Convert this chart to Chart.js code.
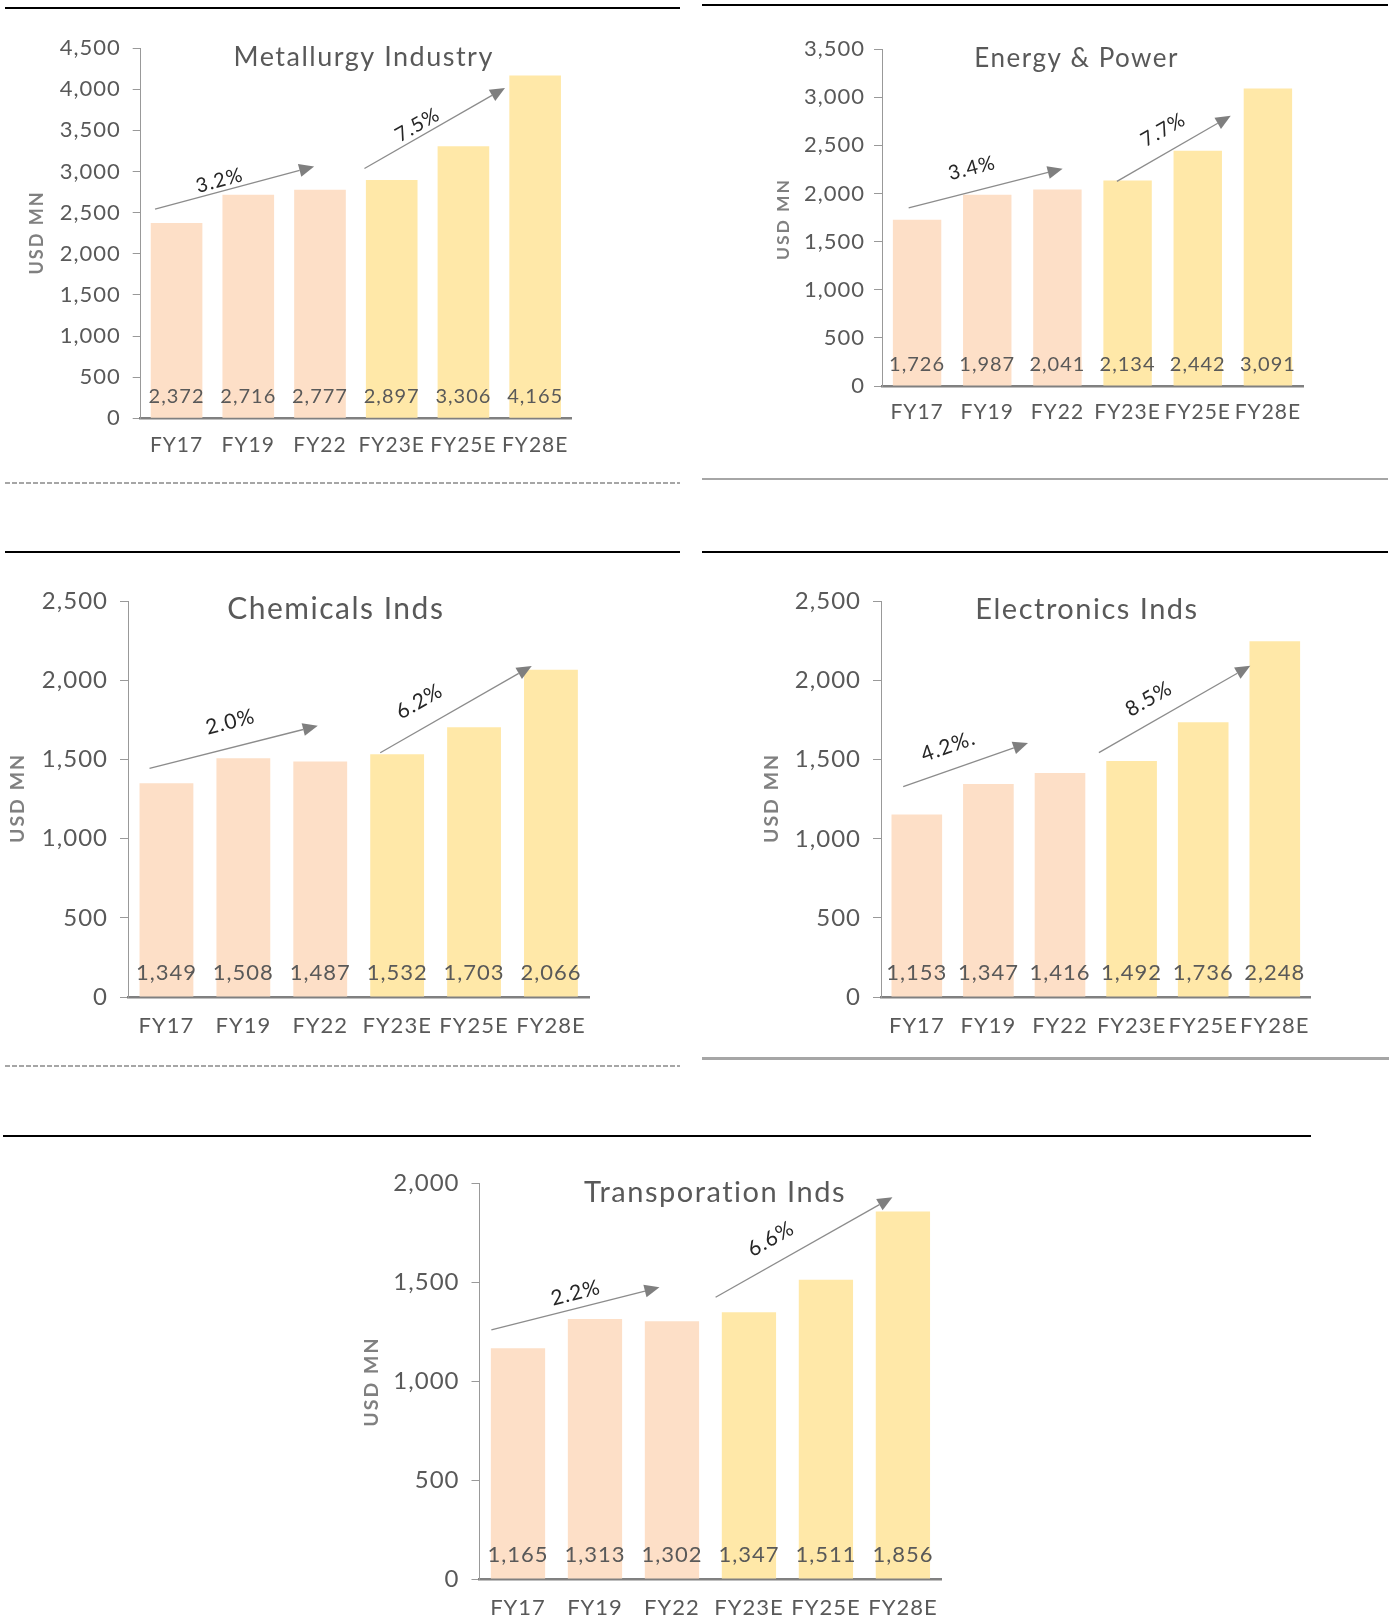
<!DOCTYPE html>
<html>
<head>
<meta charset="utf-8">
<script src="https://cdn.jsdelivr.net/npm/chart.js@4.4.1/dist/chart.umd.min.js"></script>
<style>
html,body{margin:0;padding:0;background:#fff;}
body{width:1396px;height:1620px;position:relative;overflow:hidden;font-family:Lato,sans-serif;}
canvas{position:absolute;}
.rule{position:absolute;}
.solid{background:#000;height:2px;}
.grey{background:#a6a6a6;}
.dash{height:2px;background:repeating-linear-gradient(to right,#a6a6a6 0 5px,transparent 5px 7px);}
</style>
</head>
<body>
<div class="rule solid" style="left:5px;top:7px;width:675px;"></div>
<div class="rule dash" style="left:5px;top:482px;width:675px;"></div>
<div class="rule solid" style="left:702px;top:4px;width:686px;"></div>
<div class="rule grey" style="left:702px;top:478px;width:686px;height:2px;"></div>
<div class="rule solid" style="left:5px;top:551px;width:675px;"></div>
<div class="rule dash" style="left:5px;top:1065px;width:675px;"></div>
<div class="rule solid" style="left:702px;top:551px;width:686px;"></div>
<div class="rule grey" style="left:702px;top:1057px;width:687px;height:3px;"></div>
<div class="rule solid" style="left:3px;top:1135px;width:1308px;"></div>

<script>
// ---------------- DATA ----------------
const categories = ['FY17', 'FY19', 'FY22', 'FY23E', 'FY25E', 'FY28E'];

const metallurgyValues  = [2372, 2716, 2777, 2897, 3306, 4165];
const energyValues      = [1726, 1987, 2041, 2134, 2442, 3091];
const chemicalsValues   = [1349, 1508, 1487, 1532, 1703, 2066];
const electronicsValues = [1153, 1347, 1416, 1492, 1736, 2248];
const transportValues   = [1165, 1313, 1302, 1347, 1511, 1856];

const metallurgyTicks  = [0, 500, 1000, 1500, 2000, 2500, 3000, 3500, 4000, 4500];
const energyTicks      = [0, 500, 1000, 1500, 2000, 2500, 3000, 3500];
const chemicalsTicks   = [0, 500, 1000, 1500, 2000, 2500];
const electronicsTicks = [0, 500, 1000, 1500, 2000, 2500];
const transportTicks   = [0, 500, 1000, 1500, 2000];

// CAGR labels
const metallurgyCagr  = ['3.2%', '7.5%'];
const energyCagr      = ['3.4%', '7.7%'];
const chemicalsCagr   = ['2.0%', '6.2%'];
const electronicsCagr = ['4.2%.', '8.5%'];
const transportCagr   = ['2.2%', '6.6%'];

// trend arrows in data space: [fromCategoryPos, fromValue, toCategoryPos, toValue]
const metallurgyTrend  = [[-0.30, 2542, 1.918, 3060], [2.62, 3035, 4.58, 4015]];
const energyTrend      = [[-0.12, 1849, 2.074, 2256], [2.848, 2125, 4.47, 2806]];
const chemicalsTrend   = [[-0.22, 1443, 1.968, 1712], [2.78, 1542, 4.75, 2090]];
const electronicsTrend = [[-0.19, 1330, 1.553, 1606], [2.543, 1545, 4.658, 2094]];
const transportTrend   = [[-0.346, 1258, 1.838, 1473], [2.567, 1423, 4.864, 1928]];

// CAGR label anchors in data space: [categoryPos, value]
const metallurgyCagrAt  = [[0.60, 2890], [3.36, 3565]];
const energyCagrAt      = [[0.78, 2263], [3.51, 2661]];
const chemicalsCagrAt   = [[0.83, 1736], [3.29, 1866]];
const electronicsCagrAt = [[0.44, 1584], [3.24, 1884]];
const transportCagrAt   = [[0.75, 1444], [3.285, 1717]];

// ---------------- STYLE / LAYOUT ----------------
const PEACH = '#FDDFC7';
const GOLD = '#FFE8A8';
const barColors = categories.map((c, i) => i < 3 ? PEACH : GOLD);
const TEXT = '#595959';
const FONT = 'Lato, "Open Sans", sans-serif';

Chart.defaults.font.family = FONT;
Chart.defaults.color = TEXT;
Chart.defaults.animation = false;

const fmt = v => Number(v).toLocaleString('en-US');

const panels = [
  { title: 'Metallurgy Industry', values: metallurgyValues, ticks: metallurgyTicks, cagr: metallurgyCagr, trend: metallurgyTrend, cagrAt: metallurgyCagrAt,
    rect: {x: 0, y: 15, w: 690, h: 460}, plot: {l: 140.7, t: 48, r: 571, b: 418.3}, bar: 0.72,
    titleAt: [363.7, 56.8], titleSize: 27, usdAt: [37.2, 232.5], usdSize: 18,
    tickSize: 22, tickPad: 12, tickLen: 8, valSize: 20, valOff: 22, xSize: 21, xPad: 14, cagrSize: 20 },
  { title: 'Energy & Power', values: energyValues, ticks: energyTicks, cagr: energyCagr, trend: energyTrend, cagrAt: energyCagrAt,
    rect: {x: 695, y: 15, w: 700, h: 460}, plot: {l: 882, t: 49, r: 1303, b: 386}, bar: 0.69,
    titleAt: [1076.7, 58.9], titleSize: 26, usdAt: [783.2, 219], usdSize: 17.5,
    tickSize: 22, tickPad: 9, tickLen: 8, valSize: 20, valOff: 21, xSize: 21, xPad: 13.7, cagrSize: 20 },
  { title: 'Chemicals Inds', values: chemicalsValues, ticks: chemicalsTicks, cagr: chemicalsCagr, trend: chemicalsTrend, cagrAt: chemicalsCagrAt,
    rect: {x: 0, y: 560, w: 690, h: 495}, plot: {l: 128, t: 601, r: 589.4, b: 997}, bar: 0.70,
    titleAt: [335.8, 609.7], titleSize: 30, usdAt: [18, 798], usdSize: 19.5,
    tickSize: 24, tickPad: 12, tickLen: 8, valSize: 22, valOff: 23.6, xSize: 22, xPad: 15.8, cagrSize: 21 },
  { title: 'Electronics Inds', values: electronicsValues, ticks: electronicsTicks, cagr: electronicsCagr, trend: electronicsTrend, cagrAt: electronicsCagrAt,
    rect: {x: 695, y: 560, w: 700, h: 495}, plot: {l: 881, t: 601.5, r: 1310.6, b: 997}, bar: 0.707,
    titleAt: [1087, 609.7], titleSize: 29, usdAt: [771.9, 798], usdSize: 19.5,
    tickSize: 24, tickPad: 12, tickLen: 8, valSize: 22, valOff: 23.6, xSize: 22, xPad: 15.8, cagrSize: 21 },
  { title: 'Transporation Inds', values: transportValues, ticks: transportTicks, cagr: transportCagr, trend: transportTrend, cagrAt: transportCagrAt,
    rect: {x: 0, y: 1140, w: 1396, h: 480}, plot: {l: 479.5, t: 1183, r: 941.4, b: 1579}, bar: 0.705,
    titleAt: [715, 1192.4], titleSize: 29, usdAt: [372, 1381.6], usdSize: 19.5,
    tickSize: 24, tickPad: 12, tickLen: 8, valSize: 22, valOff: 24, xSize: 22, xPad: 15.8, cagrSize: 21 }
];

function makeAnnot(p) {
  return {
    id: 'annot',
    beforeInit(chart) { chart.ctx.letterSpacing = '1px'; },
    beforeDraw(chart) { chart.ctx.letterSpacing = '1px'; },
    afterDatasetsDraw(chart) {
      const ctx = chart.ctx, xs = chart.scales.x, ys = chart.scales.y, ca = chart.chartArea;
      const ox = p.rect.x, oy = p.rect.y;
      ctx.save();
      ctx.letterSpacing = '1px';
      ctx.textAlign = 'center';
      ctx.textBaseline = 'middle';
      // value labels inside bars
      ctx.fillStyle = TEXT;
      ctx.font = p.valSize + 'px ' + FONT;
      chart.getDatasetMeta(0).data.forEach((bar, i) => {
        ctx.fillText(fmt(p.values[i]), bar.x, ca.bottom - p.valOff);
      });
      // trend arrows + CAGR labels
      p.trend.forEach((a, k) => {
        const x0 = xs.getPixelForValue(a[0]), y0 = ys.getPixelForValue(a[1]);
        const x1 = xs.getPixelForValue(a[2]), y1 = ys.getPixelForValue(a[3]);
        const ang = Math.atan2(y1 - y0, x1 - x0);
        const ux = Math.cos(ang), uy = Math.sin(ang);
        const hl = 15, hw = 6.5;
        ctx.strokeStyle = '#8c8c8c';
        ctx.lineWidth = 1.3;
        ctx.beginPath();
        ctx.moveTo(x0, y0);
        ctx.lineTo(x1 - ux * hl, y1 - uy * hl);
        ctx.stroke();
        ctx.fillStyle = '#7f7f7f';
        ctx.beginPath();
        ctx.moveTo(x1, y1);
        ctx.lineTo(x1 - ux * hl - uy * hw, y1 - uy * hl + ux * hw);
        ctx.lineTo(x1 - ux * hl + uy * hw, y1 - uy * hl - ux * hw);
        ctx.closePath();
        ctx.fill();
        const lp = p.cagrAt[k];
        const lx = xs.getPixelForValue(lp[0]), ly = ys.getPixelForValue(lp[1]);
        ctx.save();
        ctx.translate(lx, ly);
        ctx.rotate(ang);
        ctx.fillStyle = '#262626';
        ctx.font = p.cagrSize + 'px ' + FONT;
        ctx.fillText(p.cagr[k], 0, 0);
        ctx.restore();
      });
      // title
      ctx.fillStyle = TEXT;
      ctx.font = p.titleSize + 'px ' + FONT;
      ctx.letterSpacing = '1.5px';
      ctx.fillText(p.title, p.titleAt[0] - ox, p.titleAt[1] - oy);
      // axis title
      ctx.save();
      ctx.translate(p.usdAt[0] - ox, p.usdAt[1] - oy);
      ctx.rotate(-Math.PI / 2);
      ctx.fillStyle = '#808080';
      ctx.font = 'bold ' + p.usdSize + 'px ' + FONT;
      ctx.letterSpacing = '2px';
      ctx.fillText('USD MN', 0, 0);
      ctx.restore();
      ctx.restore();
    }
  };
}

panels.forEach((p, idx) => {
  const cv = document.createElement('canvas');
  cv.width = p.rect.w;
  cv.height = p.rect.h;
  cv.style.left = p.rect.x + 'px';
  cv.style.top = p.rect.y + 'px';
  cv.style.width = p.rect.w + 'px';
  cv.style.height = p.rect.h + 'px';
  document.body.appendChild(cv);

  new Chart(cv, {
    type: 'bar',
    data: {
      labels: categories,
      datasets: [{
        data: p.values,
        backgroundColor: barColors,
        borderWidth: 0,
        barPercentage: p.bar,
        categoryPercentage: 1
      }]
    },
    options: {
      responsive: false,
      maintainAspectRatio: false,
      devicePixelRatio: 1,
      animation: false,
      layout: {
        padding: {
          left: 0,
          top: p.plot.t - p.rect.y,
          right: p.rect.x + p.rect.w - p.plot.r,
          bottom: 0
        }
      },
      plugins: {
        legend: { display: false },
        title: { display: false },
        tooltip: { enabled: false }
      },
      scales: {
        x: {
          type: 'category',
          offset: true,
          grid: { display: false, drawTicks: false },
          border: { display: true, color: '#808080', width: 2.5 },
          ticks: {
            autoSkip: false, maxRotation: 0, minRotation: 0,
            padding: p.xPad,
            color: TEXT,
            font: { size: p.xSize, family: FONT }
          },
          afterFit: s => {
            s.height = p.rect.y + p.rect.h - p.plot.b;
            s.paddingLeft = 0; s.paddingRight = 0;
          }
        },
        y: {
          type: 'linear',
          min: p.ticks[0],
          max: p.ticks[p.ticks.length - 1],
          grid: { display: true, drawOnChartArea: false, drawTicks: true, tickLength: p.tickLen, color: '#999999', lineWidth: 1 },
          border: { display: true, color: '#999999', width: 1 },
          ticks: {
            padding: p.tickPad,
            color: TEXT,
            font: { size: p.tickSize, family: FONT },
            callback: v => fmt(v)
          },
          afterBuildTicks: s => { s.ticks = p.ticks.map(v => ({ value: v })); },
          afterFit: s => {
            s.width = p.plot.l - p.rect.x;
            s.paddingTop = 0; s.paddingBottom = 0;
          }
        }
      }
    },
    plugins: [makeAnnot(p)]
  });
});
</script>
</body>
</html>
